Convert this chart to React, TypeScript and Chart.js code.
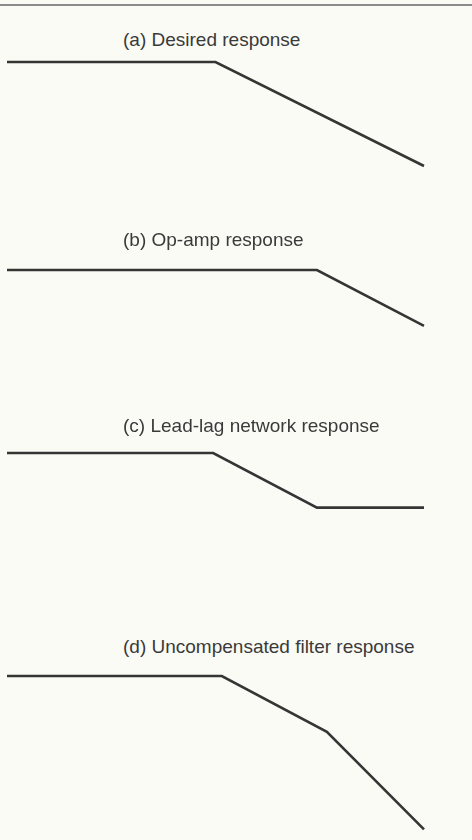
import React, { useEffect, useRef } from "react";
import { Chart, registerables } from "chart.js";

Chart.register(...registerables);

// Titles of the four panels
const TITLES = [
  "(a) Desired response",
  "(b) Op-amp response",
  "(c) Lead-lag network response",
  "(d) Uncompensated filter response",
];

// Frequencies (Hz, log axis) and gains (dB) of each response's breakpoints
const FREQ_A = [10, 1000, 100000];
const GAIN_A = [0, 0, -40];

const FREQ_B = [10, 9400, 100000];
const GAIN_B = [0, 0, -21.5];

const FREQ_C = [10, 950, 9400, 100000];
const GAIN_C = [0, 0, -21, -21];

const FREQ_D = [10, 1150, 11700, 100000];
const GAIN_D = [0, 0, -21.5, -59];

const PANELS = [
  { title: TITLES[0], freq: FREQ_A, gain: GAIN_A, top: 48.5, titleTop: 30 },
  { title: TITLES[1], freq: FREQ_B, gain: GAIN_B, top: 257, titleTop: 230 },
  { title: TITLES[2], freq: FREQ_C, gain: GAIN_C, top: 439.5, titleTop: 416 },
  { title: TITLES[3], freq: FREQ_D, gain: GAIN_D, top: 663, titleTop: 637 },
];

const Y_MAX = 5;
const Y_MIN = -65;
const PX_PER_DB = 2.6;
const CANVAS_H = (Y_MAX - Y_MIN) * PX_PER_DB;
const INK = "#353535";

function Panel({ freq, gain, top }: { freq: number[]; gain: number[]; top: number }) {
  const ref = useRef<HTMLCanvasElement | null>(null);
  useEffect(() => {
    if (!ref.current) return;
    const chart = new Chart(ref.current, {
      type: "line",
      data: {
        datasets: [
          {
            data: freq.map((f, i) => ({ x: f, y: gain[i] })),
            borderColor: INK,
            borderWidth: 2.6,
            pointRadius: 0,
            tension: 0,
            borderCapStyle: "butt",
            borderJoinStyle: "miter",
            clip: false,
          } as any,
        ],
      },
      options: {
        animation: false,
        responsive: false,
        devicePixelRatio: 1,
        layout: { padding: { left: 7, right: 48, top: 0, bottom: 0 } },
        plugins: { legend: { display: false }, tooltip: { enabled: false }, title: { display: false } },
        scales: {
          x: { type: "logarithmic", min: 10, max: 100000, display: false },
          y: { type: "linear", min: Y_MIN, max: Y_MAX, display: false },
        },
      },
    });
    return () => chart.destroy();
  }, [freq, gain]);
  return (
    <canvas
      ref={ref}
      width={472}
      height={CANVAS_H}
      style={{ position: "absolute", left: 0, top, width: 472, height: CANVAS_H, display: "block" }}
    />
  );
}

export default function App() {
  return (
    <div
      style={{
        position: "absolute",
        left: 0,
        top: 0,
        width: 472,
        height: 840,
        overflow: "hidden",
        background: "#fbfbf5",
      }}
    >
      <div style={{ position: "absolute", left: 0, top: 4, width: 472, height: 2, background: "#8c8c8c" }} />
      {PANELS.map((p, i) => (
        <React.Fragment key={i}>
          <div
            style={{
              position: "absolute",
              left: 123,
              top: p.titleTop,
              fontFamily: '"Liberation Sans", Arial, Helvetica, sans-serif',
              fontSize: 19,
              lineHeight: "19px",
              color: "#3a3a3a",
              whiteSpace: "nowrap",
            }}
          >
            {p.title}
          </div>
          <Panel freq={p.freq} gain={p.gain} top={p.top} />
        </React.Fragment>
      ))}
    </div>
  );
}
